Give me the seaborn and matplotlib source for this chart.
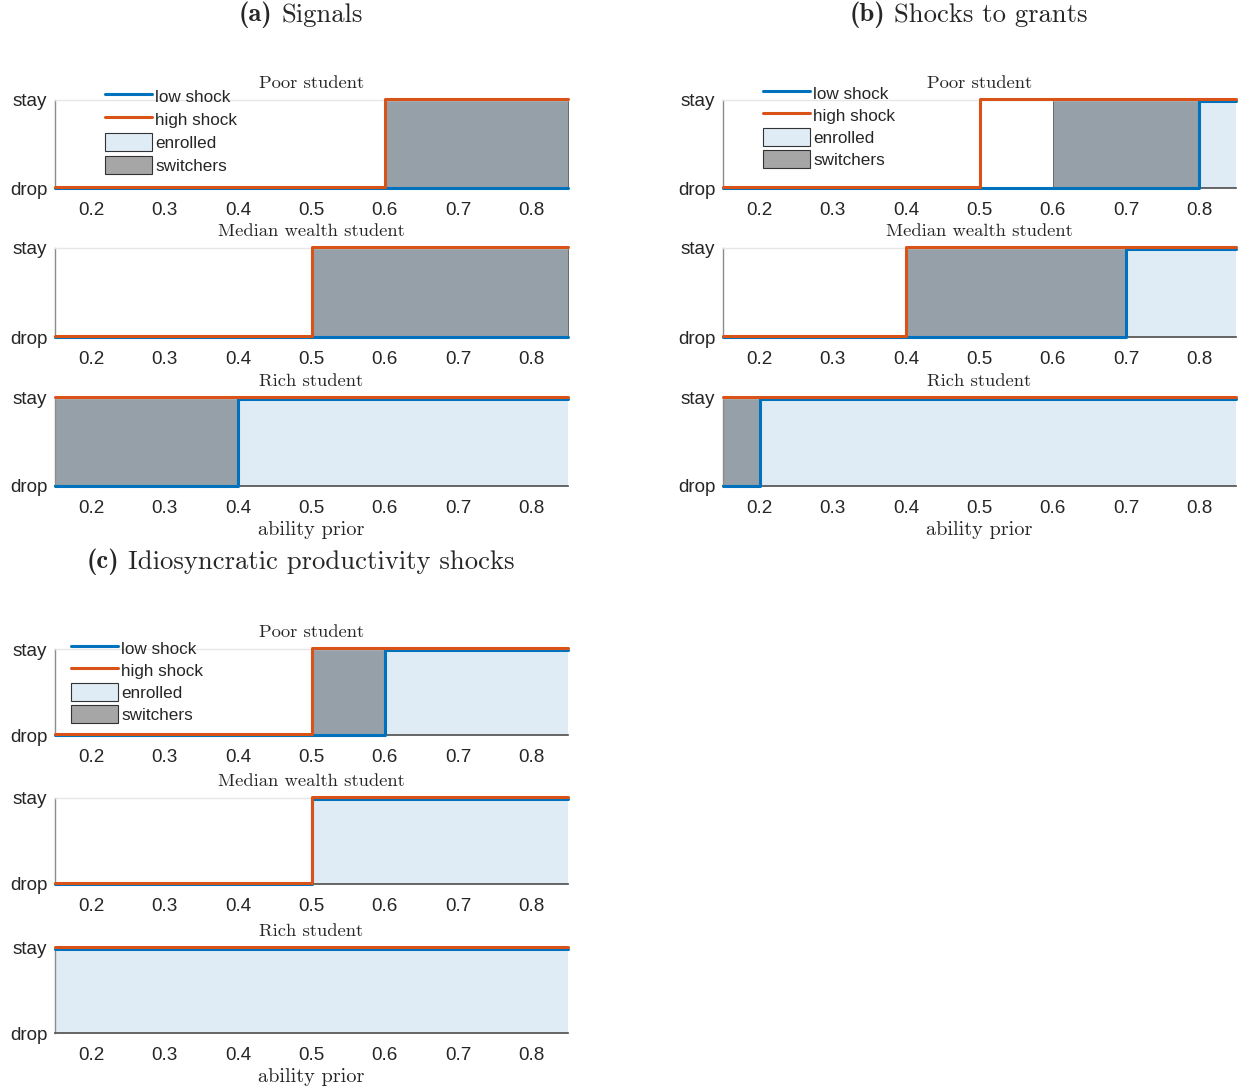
import matplotlib
matplotlib.use("Agg")
import matplotlib.pyplot as plt
import numpy as np
import pandas as pd
import seaborn as sns
from matplotlib.lines import Line2D
from matplotlib.patches import Patch

# ---------------------------------------------------------------- data
ability_min, ability_max = 0.15, 0.85
ability_ticks = [0.2, 0.3, 0.4, 0.5, 0.6, 0.7, 0.8]
decision_labels = ["drop", "stay"]
students = ["Poor student", "Median wealth student", "Rich student"]
shock_labels = ["low shock", "high shock"]
region_labels = ["enrolled", "switchers"]

panel_tags = ["(a)", "(b)", "(c)"]
panel_titles = ["Signals", "Shocks to grants", "Idiosyncratic productivity shocks"]

# ability prior above which the student stays enrolled (None: always drops)
signals_low = [None, None, 0.40]
signals_high = [0.60, 0.50, 0.15]
signals_switch_from = [0.60, 0.50, 0.15]

grants_low = [0.80, 0.70, 0.20]
grants_high = [0.50, 0.40, 0.15]
grants_switch_from = [0.60, 0.40, 0.15]

prod_low = [0.60, 0.50, 0.15]
prod_high = [0.50, 0.50, 0.15]
prod_switch_from = [0.50, 0.50, 0.15]

low_cutoffs = [signals_low, grants_low, prod_low]
high_cutoffs = [signals_high, grants_high, prod_high]
switch_from = [signals_switch_from, grants_switch_from, prod_switch_from]

# ---------------------------------------------------------------- style
W, H, DPI = 1245, 1092, 100
BLUE, ORANGE = "#0072BD", "#D95319"
ENROLLED, SWITCHERS = "#dfecf6", "#95a0a8"
LEG_SWITCHERS = "#a6a6a6"
SERIF, SERIF_BOLD = "cmr10", "cmb10"
LW = 2.2

sns.set_theme(style="white")
plt.rcParams["font.family"] = ["Liberation Sans", "DejaVu Sans"]
plt.rcParams["axes.unicode_minus"] = False

fig = plt.figure(figsize=(W / DPI, H / DPI), dpi=DPI)
renderer = fig.canvas.get_renderer()


def fx(px):
    return px / W


def fy(py):
    return 1 - py / H


def add_px_axes(left, top, right, bottom):
    return fig.add_axes([fx(left), fy(bottom), fx(right - left), (bottom - top) / H])


def decision_path(cutoff):
    """Ability grid and stay(1)/drop(0) decisions for a cutoff rule."""
    if cutoff is None:
        return [ability_min, ability_max], [0, 0]
    if cutoff <= ability_min:
        return [ability_min, ability_max], [1, 1]
    return [ability_min, cutoff, ability_max], [0, 1, 1]


def panel_heading(tag, title, xc, yc, size=19.2, gap=9):
    """Bold tag followed by a regular title, centred on (xc, yc) in pixels."""
    t1 = fig.text(0, fy(yc), tag, ha="left", va="center", fontsize=size,
                  family=SERIF_BOLD)
    t2 = fig.text(0, fy(yc), title, ha="left", va="center", fontsize=size,
                  family=SERIF)
    w1 = t1.get_window_extent(renderer).width
    w2 = t2.get_window_extent(renderer).width
    start = xc - (w1 + gap + w2) / 2
    t1.set_x(fx(start))
    t2.set_x(fx(start + w1 + gap))


# panel geometry in pixels
panel_left = [55, 723, 55]
panel_width = 513
panel_tops = [[100, 248, 398], [100, 248, 398], [649, 798, 948]]
panel_bottoms = [[188, 337, 486], [188, 337, 486], [735, 884, 1033]]
title_y = [15, 15, 562]
legend_anchor = [(105, 87), (763, 84), (71, 639)]
legend_spacing = [0.33, 0.27, 0.27]

for p in range(3):
    left = panel_left[p]
    right = left + panel_width
    xc = (left + right) / 2
    panel_heading(panel_tags[p], panel_titles[p], xc - 11, title_y[p])

    for s in range(3):
        top, bottom = panel_tops[p][s], panel_bottoms[p][s]
        ax = add_px_axes(left, top, right, bottom)

        lo = low_cutoffs[p][s]
        hi = high_cutoffs[p][s]
        sw = switch_from[p][s]

        # shaded regions
        sw_end = ability_max if lo is None else lo
        if sw < sw_end:
            ax.fill_between([sw, sw_end], 0, 1.0, facecolor=SWITCHERS,
                            edgecolor="#5a5a5a", linewidth=0.6, zorder=1)
        if lo is not None and lo < ability_max:
            ax.fill_between([lo, ability_max], 0, 0.985, facecolor=ENROLLED,
                            edgecolor="none", linewidth=0, zorder=1)

        # decision rules
        rows = []
        for label, cutoff, scale, shift in [(shock_labels[0], lo, 0.985, 0.0),
                                            (shock_labels[1], hi, 1.0, 0.015)]:
            xs, ys = decision_path(cutoff)
            for xv, yv in zip(xs, ys):
                rows.append({"ability": xv, "decision": yv * scale + shift, "shock": label})
        df = pd.DataFrame(rows)
        sns.lineplot(data=df, x="ability", y="decision", hue="shock",
                     hue_order=shock_labels, palette=[BLUE, ORANGE],
                     drawstyle="steps-post", linewidth=LW, legend=False,
                     errorbar=None, estimator=None, ax=ax, clip_on=False, zorder=3)

        ax.set_xlim(ability_min, ability_max)
        ax.set_ylim(0, 1)
        ax.set_xticks(ability_ticks)
        ax.set_xticklabels([f"{t:.1f}" for t in ability_ticks])
        ax.set_yticks([0, 1])
        ax.set_yticklabels(decision_labels)
        ax.set_xlabel("")
        ax.set_ylabel("")
        ax.tick_params(axis="both", direction="in", length=4, width=0.8,
                       colors="#262626", labelsize=13.6)
        ax.tick_params(axis="x", pad=10)
        ax.tick_params(axis="y", pad=5.5)
        ax.set_facecolor("white")
        ax.spines["right"].set_visible(False)
        ax.spines["top"].set_color("#e6e6e6")
        ax.spines["top"].set_linewidth(1.0)
        ax.spines["left"].set_color("#8c8c8c")
        ax.spines["left"].set_linewidth(1.0)
        ax.spines["bottom"].set_color("#4d4d4d")
        ax.spines["bottom"].set_linewidth(1.2)
        for sp in ax.spines.values():
            sp.set_zorder(2.5)

        fig.text(fx(xc), fy(top - 17), students[s], ha="center", va="center",
                 fontsize=13.4, family=SERIF)

        if s == 2:
            fig.text(fx(xc), fy(bottom + 44), "ability prior", ha="center",
                     va="center", fontsize=14.6, family=SERIF)

        if s == 0:
            handles = [
                Line2D([], [], color=BLUE, lw=LW),
                Line2D([], [], color=ORANGE, lw=LW),
                Patch(facecolor=ENROLLED, edgecolor="#333333", linewidth=0.8),
                Patch(facecolor=LEG_SWITCHERS, edgecolor="#333333", linewidth=0.8),
            ]
            lx, ly = legend_anchor[p]
            ax.legend(handles, shock_labels + region_labels, loc="upper left",
                      bbox_to_anchor=(fx(lx), fy(ly)), bbox_transform=fig.transFigure,
                      frameon=False, fontsize=12.3, borderpad=0, borderaxespad=0,
                      handlelength=2.75, handleheight=1.2, handletextpad=0.18,
                      labelspacing=legend_spacing[p])

fig.savefig("out.png", dpi=DPI)
